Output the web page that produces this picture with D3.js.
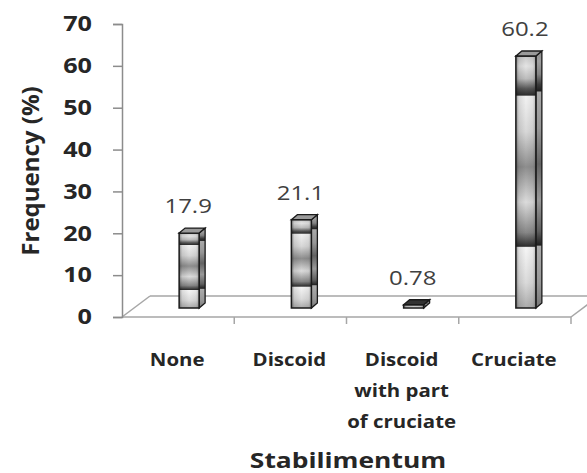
<!DOCTYPE html>
<html>
<head>
<meta charset="utf-8">
<script src="https://cdn.jsdelivr.net/npm/d3@7"></script>
<style>
  body { margin: 0; background: #fff; }
  text { font-family: "Open Sans", sans-serif; }
</style>
</head>
<body>
<div id="chart"></div>
<script>
const categories = ["None", "Discoid", "Discoid with part of cruciate", "Cruciate"]
const catLines = [["None"], ["Discoid"], ["Discoid", "with part", "of cruciate"], ["Cruciate"]]
const values = [17.9, 21.1, 0.78, 60.2]
const valueLabels = ["17.9", "21.1", "0.78", "60.2"]
const yTicks = [0, 10, 20, 30, 40, 50, 60, 70]

const width = 587, height = 473
const svg = d3.select("#chart").append("svg").attr("width", width).attr("height", height)

const x = d3.scaleBand().domain(categories).range([122, 571])
const y = d3.scaleLinear().domain([0, 70]).range([317, 24])

// 3d offsets, text is a bit wider than the font
const floorDx = 28, floorDy = -21
const barDx = 1, barDy = -9, barW = 20, sideW = 6, topH = 5
const sx = 1.2

const defs = svg.append("defs")
const vg = defs.append("linearGradient").attr("id", "barV").attr("x1", 0).attr("y1", 0).attr("x2", 0).attr("y2", 1)
;[[0, "#c8c8c8"], [0.04, "#e4e4e4"], [0.09, "#bdbdbd"], [0.13, "#555"], [0.155, "#2e2e2e"], [0.16, "#f2f2f2"], [0.3, "#d8d8d8"],
  [0.44, "#8e8e8e"], [0.58, "#dcdcdc"], [0.7, "#888"], [0.755, "#2e2e2e"], [0.76, "#f6f6f6"],
  [0.9, "#dadada"], [1, "#ababab"]].forEach(s => vg.append("stop").attr("offset", s[0]).attr("stop-color", s[1]))

const hg = defs.append("linearGradient").attr("id", "barH").attr("x1", 0).attr("y1", 0).attr("x2", 1).attr("y2", 0)
;[[0, 0.4], [0.15, 0.1], [0.5, 0], [0.85, 0.06], [1, 0.25]].forEach(s =>
  hg.append("stop").attr("offset", s[0]).attr("stop-color", "#000").attr("stop-opacity", s[1]))

// floor
const floor = svg.append("g").attr("stroke", "#a6a6a6").attr("fill", "none").attr("stroke-width", 1.5)
floor.append("line").attr("x1", 122).attr("y1", y(0)).attr("x2", 122 + floorDx).attr("y2", y(0) + floorDy)
floor.append("line").attr("x1", 122 + floorDx).attr("y1", y(0) + floorDy).attr("x2", width + 20).attr("y2", y(0) + floorDy)
floor.append("line").attr("x1", 571).attr("y1", y(0)).attr("x2", 571 + floorDx).attr("y2", y(0) + floorDy)
floor.append("line").attr("x1", 122).attr("y1", y(0)).attr("x2", 571).attr("y2", y(0))

// x ticks
svg.append("g").selectAll("line").data(categories).join("line")
  .attr("x1", d => x(d) + x.bandwidth()).attr("x2", d => x(d) + x.bandwidth())
  .attr("y1", y(0)).attr("y2", y(0) + 7)
  .attr("stroke", "#a6a6a6").attr("stroke-width", 1.5)

// y axis
const yAxis = svg.append("g").attr("transform", "translate(122,0)")
  .call(d3.axisLeft(y).tickValues(yTicks).tickSize(9))
yAxis.select(".domain").attr("stroke", "#8c8c8c").attr("stroke-width", 1.5)
yAxis.selectAll(".tick line").attr("stroke", "#8c8c8c").attr("stroke-width", 1.5)
yAxis.selectAll(".tick text").attr("font-family", "Open Sans").attr("font-weight", "bold")
  .attr("font-size", 21).attr("fill", "#262626")
  .attr("x", -30 / sx).attr("transform", `scale(${sx},1)`)

svg.append("text").attr("transform", "translate(39,171) rotate(-90)")
  .attr("text-anchor", "middle").attr("font-weight", "bold").attr("font-size", 24).attr("fill", "#262626")
  .text("Frequency (%)")

// bars
const bars = svg.append("g").selectAll("g").data(values).join("g")
  .attr("transform", (d, i) => `translate(${x(categories[i]) + x.bandwidth() / 2 + barDx},${barDy})`)

bars.each(function(d) {
  const g = d3.select(this)
  const top = y(d), bot = y(0), h = bot - top
  const side = `M${barW},${top}L${barW + sideW},${top - topH}L${barW + sideW},${bot - topH}L${barW},${bot}Z`
  g.append("path").attr("d", side).attr("fill", "url(#barV)")
  g.append("path").attr("d", side)
    .attr("fill", "#000").attr("fill-opacity", 0.3).attr("stroke", "#1a1a1a").attr("stroke-width", 1.3)
  g.append("rect").attr("x", 0).attr("y", top).attr("width", barW).attr("height", h).attr("fill", "url(#barV)")
  g.append("rect").attr("x", 0).attr("y", top).attr("width", barW).attr("height", h)
    .attr("fill", "url(#barH)").attr("stroke", "#1a1a1a").attr("stroke-width", 1.5)
  g.append("path").attr("d", `M0,${top}L${sideW},${top - topH}L${barW + sideW},${top - topH}L${barW},${top}Z`)
    .attr("fill", d < 2 ? "#333" : "#9a9a9a").attr("stroke", "#1a1a1a").attr("stroke-width", 1.3)
})

// value labels
svg.append("g").selectAll("text").data(values).join("text")
  .attr("transform", (d, i) => `translate(${x(categories[i]) + x.bandwidth() / 2 + barDx + barW / 2 - 1},${y(d) + barDy - 20}) scale(${sx},1)`)
  .attr("text-anchor", "middle").attr("font-size", 20).attr("fill", "#404040")
  .text((d, i) => valueLabels[i])

// category labels
const cats = svg.append("g").selectAll("text").data(categories).join("text")
  .attr("transform", d => `translate(${x(d) + x.bandwidth() / 2 - 1},366) scale(${sx},1)`)
  .attr("text-anchor", "middle").attr("font-weight", "bold").attr("font-size", 17).attr("fill", "#262626")
cats.each(function(d, i) {
  d3.select(this).selectAll("tspan").data(catLines[i]).join("tspan")
    .attr("x", 0)
    .attr("dy", (l, j) => j ? 31 : 0)
    .text(l => l)
})

svg.append("text").attr("transform", `translate(348,468) scale(${sx},1)`)
  .attr("text-anchor", "middle").attr("font-weight", "bold").attr("font-size", 22).attr("fill", "#262626")
  .text("Stabilimentum")
</script>
</body>
</html>
